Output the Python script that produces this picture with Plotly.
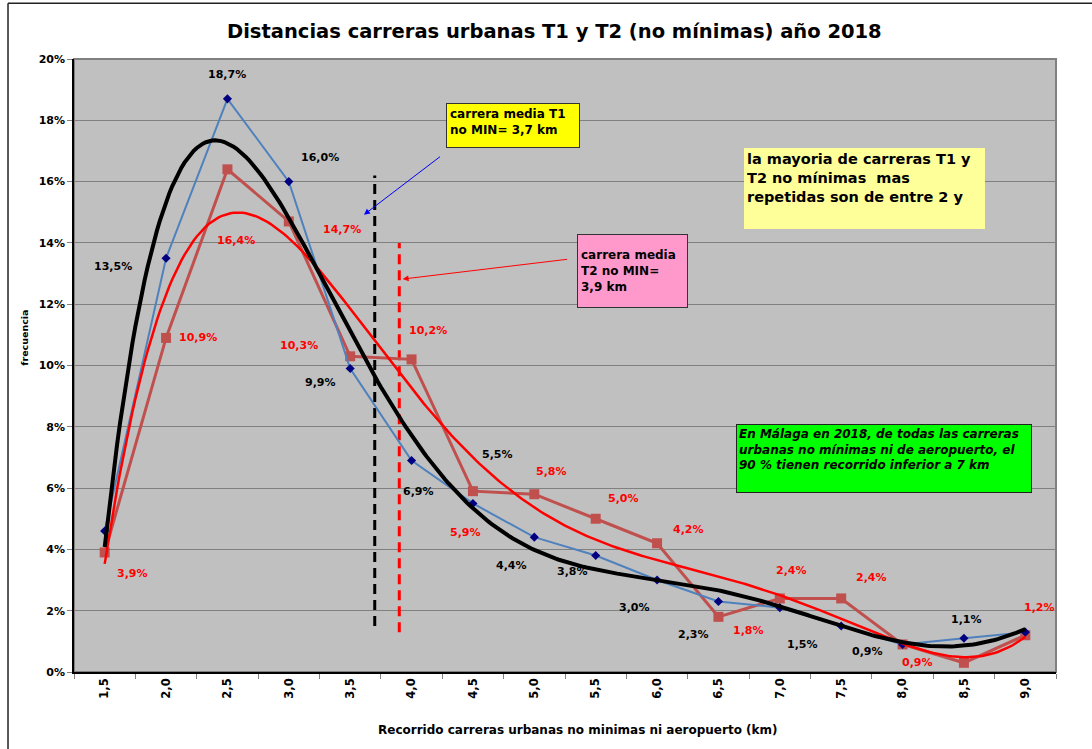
import numpy as np
import plotly.graph_objects as go

# ---------------- data ----------------
distancias_km = [1.5, 2.0, 2.5, 3.0, 3.5, 4.0, 4.5, 5.0, 5.5, 6.0, 6.5, 7.0, 7.5, 8.0, 8.5, 9.0]
tick_labels = ["1,5", "2,0", "2,5", "3,0", "3,5", "4,0", "4,5", "5,0",
               "5,5", "6,0", "6,5", "7,0", "7,5", "8,0", "8,5", "9,0"]
frec_t1 = [4.6, 13.5, 18.7, 16.0, 9.9, 6.9, 5.5, 4.4, 3.8, 3.0, 2.3, 2.1, 1.5, 0.9, 1.1, 1.3]
frec_t2 = [3.9, 10.9, 16.4, 14.7, 10.3, 10.2, 5.9, 5.8, 5.0, 4.2, 1.8, 2.4, 2.4, 0.9, 0.3, 1.2]
media_t1 = 3.7
media_t2 = 3.9

# which points carry a data label, and the label's pixel offset (dx, dy; dy up)
label_off_t1 = [None, (-53, -8), (0, 24), (31, 24), (-30, -14), (7, -31), (25, 49), (-23, -28),
                (-23, -16), (-23, -27), (-25, -33), None, (-39, -18), (-35, -7), (3, 19), None]
label_off_t2 = [(28, -21), (32, 0), (9, -71), (53, -8), (-51, 11), (16, 29), (-7, -41), (17, 23),
                (28, 20), (31, 14), (30, -14), (12, 28), (30, 21), (15, -18), None, (14, 28)]

FONT = "DejaVu Sans"

# polynomial trend lines (order 6) fitted to each series, as Excel does
idx = np.arange(1, len(distancias_km) + 1)
fine = np.linspace(1, len(distancias_km), 301)
fine_km = 1.5 + (fine - 1) * 0.5
p1 = np.polynomial.Polynomial.fit(idx, frec_t1, 6)
p2 = np.polynomial.Polynomial.fit(idx, frec_t2, 6)

fig = go.Figure()

# mean lines
fig.add_trace(go.Scatter(x=[media_t1, media_t1], y=[1.5, 16.2], mode="lines",
                         line=dict(color="black", width=3, dash="10px,6px"),
                         hoverinfo="skip", showlegend=False))
fig.add_trace(go.Scatter(x=[media_t2, media_t2], y=[1.3, 14.0], mode="lines",
                         line=dict(color="#FF0000", width=3, dash="10px,6px"),
                         hoverinfo="skip", showlegend=False))

# T2 series
fig.add_trace(go.Scatter(x=distancias_km, y=frec_t2, mode="lines+markers", name="T2",
                         line=dict(color="#C0504D", width=3),
                         marker=dict(symbol="square", size=10, color="#C0504D"),
                         showlegend=False))
# T1 series
fig.add_trace(go.Scatter(x=distancias_km, y=frec_t1, mode="lines+markers", name="T1",
                         line=dict(color="#4F81BD", width=2),
                         marker=dict(symbol="diamond", size=7, color="#000080"),
                         showlegend=False))
# trend lines
fig.add_trace(go.Scatter(x=fine_km, y=p2(fine), mode="lines",
                         line=dict(color="#FF0000", width=2.5), hoverinfo="skip", showlegend=False))
fig.add_trace(go.Scatter(x=fine_km, y=p1(fine), mode="lines",
                         line=dict(color="black", width=4), hoverinfo="skip", showlegend=False))

annotations = []


def fmt(v):
    return ("%.1f" % v).replace(".", ",") + "%"


for xs, ys, offs, col in [(distancias_km, frec_t1, label_off_t1, "black"),
                          (distancias_km, frec_t2, label_off_t2, "#FF0000")]:
    for xv, yv, off in zip(xs, ys, offs):
        if off is None:
            continue
        annotations.append(dict(x=xv, y=yv, xref="x", yref="y", text="<b>%s</b>" % fmt(yv),
                                showarrow=False, xshift=off[0], yshift=off[1],
                                font=dict(family=FONT, size=11, color=col)))

# text boxes
annotations += [
    dict(x=4.279, y=18.58, xref="x", yref="y", xanchor="left", yanchor="top",
         text="<b>carrera media T1<br>no MIN= 3,7 km</b>", showarrow=False, align="left",
         valign="top", width=126, height=37, bgcolor="#FFFF00", bordercolor="#333333",
         borderwidth=1, borderpad=3, font=dict(family=FONT, size=12, color="black")),
    dict(x=5.346, y=14.30, xref="x", yref="y", xanchor="left", yanchor="top",
         text="<b>carrera media<br>T2 no MIN=<br>3,9 km</b>", showarrow=False, align="left",
         valign="middle", width=103, height=66, bgcolor="#FF99CC", bordercolor="#333333",
         borderwidth=1, borderpad=3, font=dict(family=FONT, size=12, color="black")),
    dict(x=6.706, y=17.11, xref="x", yref="y", xanchor="left", yanchor="top",
         text="<b>la mayoria de carreras T1 y<br>T2 no mínimas  mas<br>repetidas son de entre 2 y</b>",
         showarrow=False, align="left", valign="top", width=235, height=75,
         bgcolor="#FFFF99", borderwidth=0, borderpad=3,
         font=dict(family=FONT, size=14.5, color="black")),
    dict(x=6.641, y=8.10, xref="x", yref="y", xanchor="left", yanchor="top",
         text="<b><i>En Málaga en 2018, de todas las carreras<br>urbanas no mínimas ni de aeropuerto, el<br>"
              "90 % tienen recorrido inferior a 7 km</i></b>",
         showarrow=False, align="left", valign="top", width=290, height=63,
         bgcolor="#00FF00", bordercolor="#222222", borderwidth=1, borderpad=2,
         font=dict(family=FONT, size=12, color="black")),
    # arrows
    dict(x=3.612, y=14.92, ax=4.244, ay=16.85, xref="x", yref="y", axref="x", ayref="y",
         text="", showarrow=True, arrowhead=2, arrowsize=1.2, arrowwidth=1, arrowcolor="#0000FF"),
    dict(x=3.927, y=12.82, ax=5.279, ay=13.47, xref="x", yref="y", axref="x", ayref="y",
         text="", showarrow=True, arrowhead=2, arrowsize=1.2, arrowwidth=1, arrowcolor="#FF0000"),
    # titles
    dict(x=0.4888, y=1.0441, xref="paper", yref="paper", xanchor="center", yanchor="middle",
         text="<b>Distancias carreras urbanas T1 y T2 (no mínimas) año 2018</b>", showarrow=False,
         font=dict(family=FONT, size=19.5, color="black")),
    dict(x=0.5137, y=-0.0947, xref="paper", yref="paper", xanchor="center", yanchor="middle",
         text="<b>Recorrido carreras urbanas no minimas ni aeropuerto (km)</b>", showarrow=False,
         font=dict(family=FONT, size=12, color="black")),
    dict(x=-0.0499, y=0.5454, xref="paper", yref="paper", xanchor="center", yanchor="middle",
         text="<b>frecuencia</b>", showarrow=False, textangle=-90,
         font=dict(family=FONT, size=9.5, color="black")),
]

shapes = [
    dict(type="rect", xref="paper", yref="paper", x0=0, x1=1, y0=0, y1=1,
         line=dict(color="#808080", width=2), layer="below"),
    dict(type="line", xref="paper", yref="paper", x0=-0.0672, x1=1.1, y0=1.0908, y1=1.0908,
         line=dict(color="#222222", width=1.5)),
    dict(type="line", xref="paper", yref="paper", x0=-0.0672, x1=-0.0672, y0=1.0908, y1=-0.14,
         line=dict(color="#222222", width=1.5)),
]

fig.update_layout(
    width=1092, height=749,
    margin=dict(l=74, r=36, t=59, b=77),
    paper_bgcolor="white", plot_bgcolor="#C0C0C0",
    font=dict(family=FONT, color="black"),
    annotations=annotations, shapes=shapes,
    showlegend=False,
)
fig.update_xaxes(range=[1.25, 9.25], tickmode="array", tickvals=distancias_km, ticktext=tick_labels,
                 tickangle=-90, ticks="", showgrid=False, zeroline=False,
                 showline=True, linecolor="black", linewidth=1.5,
                 tickfont=dict(family=FONT, size=11.5, color="black", weight="bold"),
                 minor=dict(ticks="outside", tickmode="linear", tick0=1.25, dtick=0.5,
                            ticklen=5, tickcolor="#808080", showgrid=False))
fig.update_yaxes(range=[0, 20], dtick=2, ticksuffix="%", showgrid=True, gridcolor="#808080",
                 gridwidth=1, zeroline=False, showline=True, linecolor="black", linewidth=1.5,
                 ticks="outside", ticklen=5, tickcolor="#808080",
                 tickfont=dict(family=FONT, size=11, color="black", weight="bold"))

fig.write_html(
    "out.html",
    config={"displayModeBar": False},
    post_script="document.body.style.margin='0px';document.body.style.overflow='hidden';",
)
